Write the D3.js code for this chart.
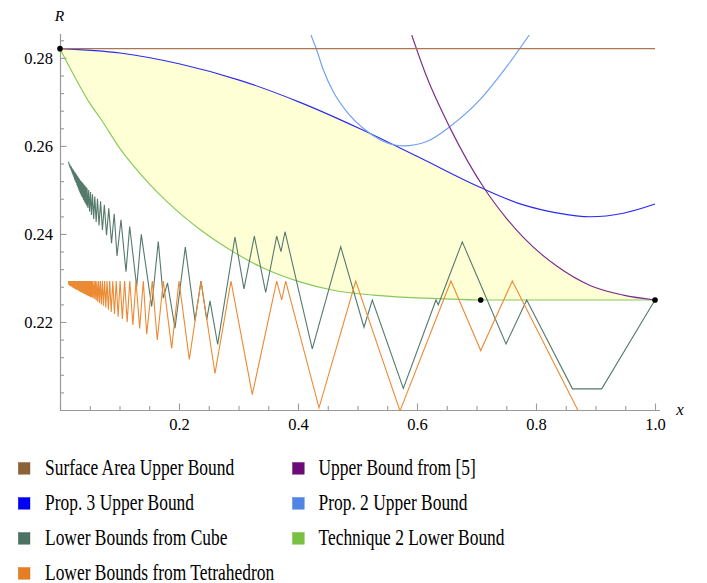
<!DOCTYPE html>
<html><head><meta charset="utf-8">
<script src="https://cdn.jsdelivr.net/npm/d3@7/dist/d3.min.js"></script>
<style>
html,body{margin:0;padding:0;background:#fff;}
svg{display:block;}
svg text{font-family:"Liberation Serif","Times New Roman",serif !important;fill:#000;}
</style></head><body>
<svg id="chart" width="707" height="583"></svg>
<script>
// ---------- data ----------
const xTickValues = [0.2, 0.4, 0.6, 0.8, 1.0];
const xTickLabels = ["0.2", "0.4", "0.6", "0.8", "1.0"];
const yTickValues = [0.22, 0.24, 0.26, 0.28];
const yTickLabels = ["0.22", "0.24", "0.26", "0.28"];

const surfaceArea = [[0, 0.2821], [1, 0.2821]];
const prop3 = [[0,0.2821],[0.1008,0.2811],[0.2017,0.2786],[0.3025,0.2749],[0.4034,0.2699],[0.5042,0.2639],[0.6050,0.2573],[0.7059,0.2506],[0.7787,0.2466],[0.8348,0.2448],[0.8908,0.2439],[0.9467,0.2447],[1.0,0.2468]];
const prop2 = [[0.4218,0.2852],[0.4314,0.2818],[0.4425,0.2773],[0.4593,0.2723],[0.4818,0.2678],[0.5097,0.2640],[0.5378,0.2614],[0.5770,0.2600],[0.6163,0.2610],[0.6555,0.2644],[0.7059,0.2705],[0.7507,0.2780],[0.7887,0.2852]];
const bound5 = [[0.5911,0.2852],[0.6163,0.2757],[0.6555,0.2641],[0.7143,0.2501],[0.7507,0.2435],[0.7787,0.2392],[0.8348,0.2327],[0.8908,0.2283],[0.9467,0.2261],[1.0,0.2250]];
const technique2 = [[0,0.2821],[0.0168,0.2777],[0.0336,0.2735],[0.0504,0.2696],[0.0672,0.2664],[0.1008,0.2594],[0.1232,0.2555],[0.1513,0.2512],[0.1793,0.2474],[0.2101,0.2437],[0.2353,0.2410],[0.2941,0.2357],[0.3361,0.2326],[0.4034,0.2291],[0.4593,0.2272],[0.5266,0.2261],[0.5827,0.2256],[0.6387,0.2253],[0.7059,0.2250],[0.8403,0.2250],[1.0,0.2250]];
const cube = [[0.0143,0.2564],[0.0151,0.2560],[0.0158,0.2555],[0.0164,0.2558],[0.0170,0.2550],[0.0177,0.2555],[0.0183,0.2546],[0.0189,0.2553],[0.0195,0.2542],[0.0202,0.2550],[0.0208,0.2537],[0.0214,0.2547],[0.0221,0.2533],[0.0227,0.2545],[0.0233,0.2529],[0.0240,0.2542],[0.0246,0.2524],[0.0252,0.2540],[0.0258,0.2520],[0.0265,0.2537],[0.0271,0.2516],[0.0277,0.2535],[0.0284,0.2511],[0.0290,0.2532],[0.0296,0.2507],[0.0303,0.2530],[0.0309,0.2503],[0.0315,0.2527],[0.0321,0.2498],[0.0328,0.2524],[0.0334,0.2494],[0.0340,0.2522],[0.0347,0.2491],[0.0353,0.2520],[0.0359,0.2487],[0.0366,0.2518],[0.0372,0.2484],[0.0378,0.2516],[0.0385,0.2481],[0.0391,0.2514],[0.0397,0.2477],[0.0403,0.2512],[0.0410,0.2474],[0.0416,0.2510],[0.0422,0.2471],[0.0429,0.2508],[0.0435,0.2468],[0.0441,0.2506],[0.0448,0.2464],[0.0455,0.2504],[0.0469,0.2459],[0.0482,0.2500],[0.0497,0.2451],[0.0513,0.2495],[0.0529,0.2443],[0.0546,0.2490],[0.0566,0.2434],[0.0585,0.2485],[0.0608,0.2427],[0.0630,0.2480],[0.0656,0.2419],[0.0682,0.2474],[0.0713,0.2409],[0.0745,0.2466],[0.0782,0.2397],[0.0820,0.2458],[0.0866,0.2379],[0.0911,0.2446],[0.0958,0.2350],[0.1025,0.2432],[0.1109,0.2314],[0.1171,0.2417],[0.1289,0.2280],[0.1366,0.2399],[0.1541,0.2235],[0.1652,0.2383],[0.1736,0.2254],[0.1807,0.2289],[0.1933,0.2186],[0.2106,0.2370],[0.2269,0.2203],[0.2370,0.2293],[0.2466,0.2205],[0.2521,0.2248],[0.2650,0.2149],[0.2941,0.2393],[0.3092,0.2275],[0.3266,0.2395],[0.3457,0.2267],[0.3642,0.2395],[0.3714,0.2360],[0.3782,0.2405],[0.4240,0.2139],[0.4718,0.2371],[0.5109,0.2188],[0.5249,0.2250],[0.5770,0.2049],[0.6319,0.2250],[0.6358,0.2239],[0.6761,0.2382],[0.7496,0.2150],[0.7844,0.2250],[0.8613,0.2048],[0.9104,0.2048],[1.0,0.2250]];
const tetra = [[0.0143,0.2293],[0.0149,0.2284],[0.0155,0.2293],[0.0161,0.2283],[0.0167,0.2293],[0.0173,0.2282],[0.0178,0.2293],[0.0184,0.2281],[0.0190,0.2293],[0.0196,0.2280],[0.0202,0.2293],[0.0208,0.2279],[0.0214,0.2293],[0.0220,0.2278],[0.0225,0.2293],[0.0231,0.2277],[0.0237,0.2293],[0.0243,0.2276],[0.0249,0.2293],[0.0255,0.2275],[0.0261,0.2293],[0.0267,0.2274],[0.0272,0.2293],[0.0278,0.2274],[0.0284,0.2293],[0.0290,0.2273],[0.0296,0.2293],[0.0302,0.2272],[0.0308,0.2293],[0.0314,0.2271],[0.0319,0.2293],[0.0325,0.2270],[0.0331,0.2293],[0.0337,0.2269],[0.0343,0.2293],[0.0349,0.2268],[0.0355,0.2293],[0.0361,0.2267],[0.0366,0.2293],[0.0372,0.2267],[0.0378,0.2293],[0.0384,0.2266],[0.0390,0.2293],[0.0396,0.2265],[0.0402,0.2293],[0.0408,0.2264],[0.0413,0.2293],[0.0419,0.2263],[0.0425,0.2293],[0.0431,0.2263],[0.0437,0.2293],[0.0443,0.2262],[0.0449,0.2293],[0.0455,0.2261],[0.0461,0.2293],[0.0467,0.2260],[0.0472,0.2293],[0.0478,0.2259],[0.0484,0.2293],[0.0490,0.2259],[0.0496,0.2293],[0.0502,0.2258],[0.0508,0.2293],[0.0514,0.2257],[0.0519,0.2293],[0.0525,0.2256],[0.0531,0.2293],[0.0537,0.2256],[0.0543,0.2293],[0.0557,0.2254],[0.0571,0.2293],[0.0583,0.2252],[0.0595,0.2293],[0.0608,0.2249],[0.0620,0.2293],[0.0634,0.2246],[0.0649,0.2293],[0.0664,0.2243],[0.0679,0.2293],[0.0696,0.2240],[0.0713,0.2293],[0.0731,0.2237],[0.0750,0.2293],[0.0770,0.2233],[0.0790,0.2293],[0.0813,0.2228],[0.0835,0.2293],[0.0861,0.2223],[0.0887,0.2293],[0.0916,0.2218],[0.0945,0.2293],[0.0977,0.2212],[0.1010,0.2293],[0.1048,0.2207],[0.1086,0.2293],[0.1129,0.2200],[0.1173,0.2293],[0.1225,0.2193],[0.1277,0.2293],[0.1339,0.2185],[0.1400,0.2293],[0.1457,0.2172],[0.1551,0.2293],[0.1635,0.2159],[0.1736,0.2293],[0.1877,0.2140],[0.2000,0.2293],[0.2173,0.2115],[0.2370,0.2293],[0.2605,0.2083],[0.2874,0.2293],[0.3232,0.2035],[0.3642,0.2293],[0.3726,0.2250],[0.3793,0.2293],[0.4353,0.2005],[0.4970,0.2293],[0.5714,0.1998],[0.6571,0.2293],[0.7071,0.2135],[0.7602,0.2293],[0.8908,0.1945]];
const markedPoints = [[0, 0.2821], [0.7071, 0.2250], [1.0, 0.2250]];

const legendNames = ["Surface Area Upper Bound", "Prop. 3 Upper Bound", "Lower Bounds from Cube", "Lower Bounds from Tetrahedron",
                     "Upper Bound from [5]", "Prop. 2 Upper Bound", "Technique 2 Lower Bound"];
const legendColors = ["#8c6239", "#0000f5", "#4b7262", "#e67e22", "#6b0a78", "#4f86e6", "#7ac143"];

// ---------- drawing ----------
const SERIF = "'Liberation Serif', 'Times New Roman', serif";
const W = 707, H = 583;
const x = d3.scaleLinear().domain([0, 1]).range([60, 655]);
const y = d3.scaleLinear().domain([0.2, 0.2852]).range([410, 35]);
const svg = d3.select("#chart");
const defs = svg.append("defs");

defs.append("clipPath").attr("id", "plotClip").append("rect")
  .attr("x", 60).attr("y", 35).attr("width", 596).attr("height", 376);

const px = d => x(d[0]), py = d => y(d[1]);
const straight = d3.line().x(px).y(py);
const smooth = d3.line().x(px).y(py).curve(d3.curveMonotoneX);
const below = d3.area().x(px).y0(y(0.2)).y1(py).curve(d3.curveMonotoneX);
const above = d3.area().x(px).y0(py).y1(y(0.2852)).curve(d3.curveMonotoneX);

// clip regions for shaded feasible area
defs.append("clipPath").attr("id", "cBlue").append("path").attr("d", below(prop3));
const cLB = defs.append("clipPath").attr("id", "cLB");
cLB.append("path").attr("d", below(prop2));
cLB.append("rect").attr("x", 0).attr("y", 0).attr("width", x(prop2[0][0]) + 0.5).attr("height", H);
cLB.append("rect").attr("x", x(prop2[prop2.length - 1][0]) - 0.5).attr("y", 0).attr("width", W).attr("height", H);
const cP = defs.append("clipPath").attr("id", "cP");
cP.append("path").attr("d", below(bound5));
cP.append("rect").attr("x", 0).attr("y", 0).attr("width", x(bound5[0][0]) + 0.5).attr("height", H);

svg.append("g").attr("clip-path", "url(#cBlue)")
  .append("g").attr("clip-path", "url(#cLB)")
  .append("g").attr("clip-path", "url(#cP)")
  .append("path").attr("d", above(technique2)).attr("fill", "#ffffd6");

// axes
const axisColor = "#9a9a9a";
const yMinor = d3.range(0.204, 0.2845, 0.004).filter(v => !yTickValues.some(t => Math.abs(t - v) < 1e-6));
const xMinor = d3.range(0, 1.001, 0.05).filter(v => !xTickValues.some(t => Math.abs(t - v) < 1e-6));

const gy = svg.append("g").attr("transform", "translate(60,0)");
gy.call(d3.axisLeft(y).tickValues(yTickValues).tickFormat((d, i) => yTickLabels[i]).tickSize(-6.5).tickSizeOuter(0).tickPadding(7));
const gy2 = svg.append("g").attr("transform", "translate(60,0)");
gy2.call(d3.axisLeft(y).tickValues(yMinor).tickFormat("").tickSize(-4).tickSizeOuter(0));
const gx = svg.append("g").attr("transform", "translate(0,410)");
gx.call(d3.axisBottom(x).tickValues(xTickValues).tickFormat((d, i) => xTickLabels[i]).tickSize(-6.5).tickSizeOuter(0).tickPadding(8));
const gx2 = svg.append("g").attr("transform", "translate(0,410)");
gx2.call(d3.axisBottom(x).tickValues(xMinor).tickFormat("").tickSize(-4).tickSizeOuter(0));

[gy, gy2, gx, gx2].forEach(g => {
  g.attr("font-family", SERIF);
  g.select(".domain").remove();
  g.selectAll(".tick line").attr("stroke", axisColor).attr("stroke-width", 1.1);
  g.selectAll(".tick text").style("font-family", SERIF).attr("font-size", 16.5).attr("fill", "#000");
});
svg.append("line").attr("x1", 60.5).attr("x2", 60.5).attr("y1", 34).attr("y2", 411).attr("stroke", axisColor).attr("stroke-width", 1.2);
svg.append("line").attr("x1", 60).attr("x2", 660).attr("y1", 410.5).attr("y2", 410.5).attr("stroke", axisColor).attr("stroke-width", 1.2);

svg.append("text").attr("x", 59.5).attr("y", 20.5).attr("text-anchor", "middle").style("font-family", SERIF)
  .attr("font-style", "italic").attr("font-size", 15.5).text("R");
svg.append("text").attr("x", 680).attr("y", 415).attr("text-anchor", "middle").style("font-family", SERIF)
  .attr("font-style", "italic").attr("font-size", 17).text("x");

// curves
const plot = svg.append("g").attr("clip-path", "url(#plotClip)");
const lw = 1.15;
plot.append("path").attr("d", smooth(technique2)).attr("fill", "none").attr("stroke", "#86c95a").attr("stroke-width", lw);
plot.append("path").attr("d", straight(cube)).attr("fill", "none").attr("stroke", "#557a6b").attr("stroke-width", 1.1);
plot.append("path").attr("d", straight(tetra)).attr("fill", "none").attr("stroke", "#ec8a33").attr("stroke-width", 1.1);
plot.append("path").attr("d", smooth(prop3)).attr("fill", "none").attr("stroke", "#2a2af2").attr("stroke-width", lw);
plot.append("path").attr("d", smooth(prop2)).attr("fill", "none").attr("stroke", "#6fa0f0").attr("stroke-width", lw);
plot.append("path").attr("d", smooth(bound5)).attr("fill", "none").attr("stroke", "#7d2a8a").attr("stroke-width", lw);
plot.append("path").attr("d", straight(surfaceArea)).attr("fill", "none").attr("stroke", "#ab7550").attr("stroke-width", lw);

svg.append("g").selectAll("circle").data(markedPoints).enter().append("circle")
  .attr("cx", px).attr("cy", py).attr("r", 2.8).attr("fill", "#000");

// legend
const legendCol = i => (i < 4 ? 0 : 1);
const legendRow = i => (i < 4 ? i : i - 4);
const lg = svg.append("g");
legendNames.forEach((name, i) => {
  const cx = legendCol(i) === 0 ? 18.3 : 292.5;
  const tx = legendCol(i) === 0 ? 45 : 318.5;
  const baseline = 475 + legendRow(i) * 35;
  lg.append("rect").attr("x", cx).attr("y", baseline - 12.5).attr("width", 11.7).attr("height", 11.7)
    .attr("fill", legendColors[i]).attr("stroke", d3.color(legendColors[i]).darker(0.3)).attr("stroke-width", 0.4);
  lg.append("text").attr("transform", `translate(${tx},${baseline}) scale(0.775,1)`)
    .style("font-family", SERIF).attr("font-size", 22.5).text(name);
});
</script>
</body></html>
